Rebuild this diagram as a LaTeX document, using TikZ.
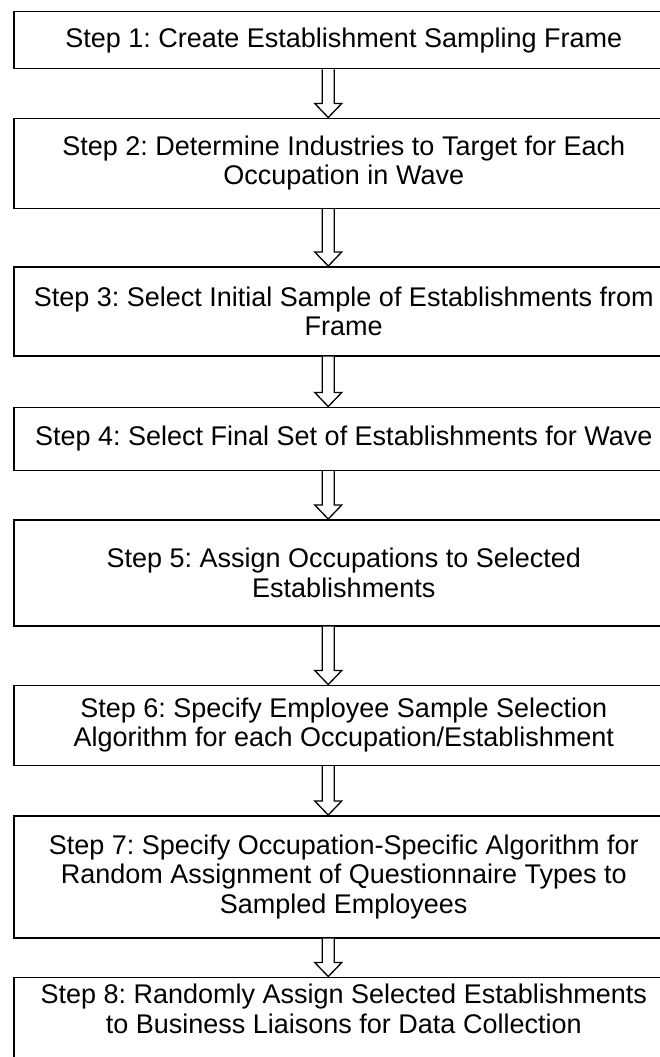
\documentclass[tikz,border=0pt]{standalone}
\usepackage{fontspec}
\setmainfont{Liberation Sans}
\usetikzlibrary{positioning, calc}
\frenchspacing

\begin{document}
\begin{tikzpicture}[
    x=1pt, y=1pt,
    stepbox/.style={rectangle, draw=black, line width=1.5pt, minimum width=660pt, align=center, inner ysep=0pt, font=\fontsize{27}{29.5}\selectfont},
    hollowarrow/.style={draw=black, line width=1.3pt, fill=white}
]
    \useasboundingbox (0,0) rectangle (660,-1057);

    % Nodes placement
    \node (step1) [stepbox, minimum height=57pt, anchor=north west] at (13,-11) {Step 1: Create Establishment Sampling Frame};
    \node (step2) [stepbox, minimum height=90pt, below=48pt of step1] {Step 2: Determine Industries to Target for Each\\Occupation in Wave};
    \node (step3) [stepbox, minimum height=89pt, below=57pt of step2] {Step 3: Select Initial Sample of Establishments from\\Frame};
    \node (step4) [stepbox, minimum height=63pt, below=50pt of step3] {Step 4: Select Final Set of Establishments for Wave};
    \node (step5) [stepbox, minimum height=106pt, below=48pt of step4] {Step 5: Assign Occupations to Selected\\Establishments};
    \node (step6) [stepbox, minimum height=80pt, below=58pt of step5] {Step 6: Specify Employee Sample Selection\\Algorithm for each Occupation/Establishment};
    \node (step7) [stepbox, minimum height=122pt, below=49pt of step6] {Step 7: Specify Occupation-Specific Algorithm for\\Random Assignment of Questionnaire Types to\\Sampled Employees};
    \node (step8) [stepbox, inner ysep=7pt, text depth=70pt, below=38pt of step7] {Step 8: Randomly Assign Selected Establishments\\to Business Liaisons for Data Collection};

    % Block arrows
    \foreach \a/\b in {step1/step2, step2/step3, step3/step4, step4/step5, step5/step6, step6/step7, step7/step8}
        \draw [hollowarrow] ($(\a.south)+(-21.5,0)$) -- ($(\b.north)+(-21.5,14)$) -- ($(\b.north)+(-29,14)$) -- ($(\b.north)+(-15.5,0)$)
            -- ($(\b.north)+(-2,14)$) -- ($(\b.north)+(-9.5,14)$) -- ($(\a.south)+(-9.5,0)$);

\end{tikzpicture}
\end{document}
